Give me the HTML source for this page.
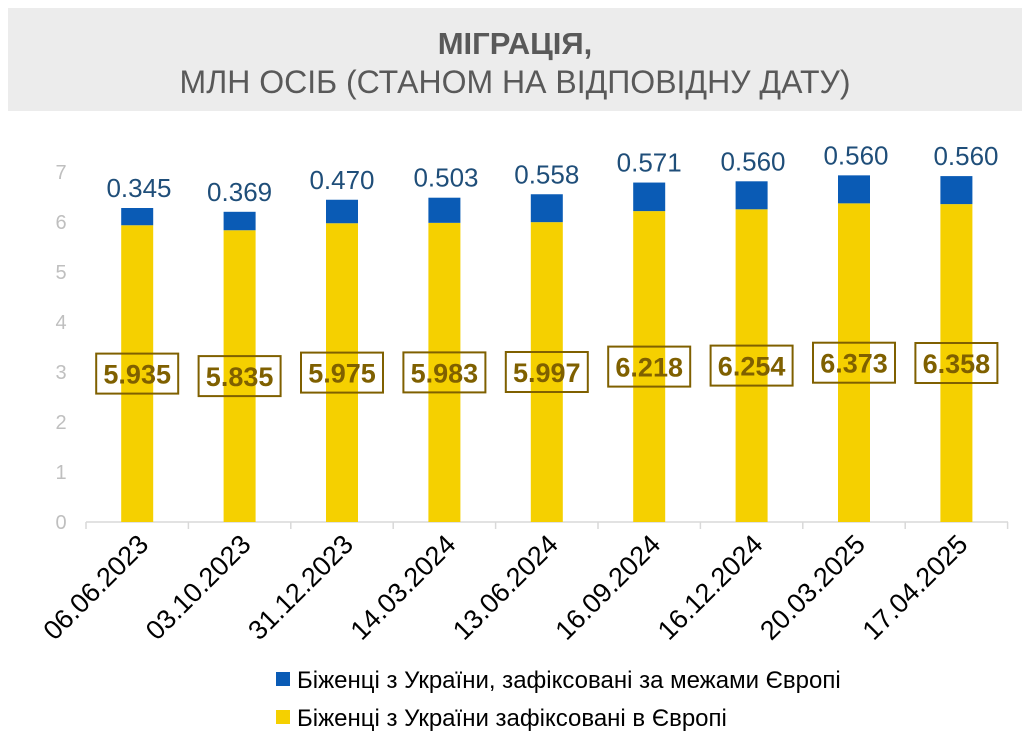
<!DOCTYPE html>
<html><head><meta charset="utf-8"><style>
body{margin:0;background:#fff;font-family:"Liberation Sans",sans-serif;}
</style></head><body>
<svg width="1030" height="740" xmlns="http://www.w3.org/2000/svg" font-family="Liberation Sans, sans-serif">
<rect x="8" y="8" width="1014" height="103" fill="#ececec"/>
<text x="515" y="54" text-anchor="middle" font-size="31" font-weight="bold" fill="#595959">МІГРАЦІЯ,</text>
<text x="515" y="93" text-anchor="middle" font-size="32" fill="#595959">МЛН ОСІБ (СТАНОМ НА ВІДПОВІДНУ ДАТУ)</text>
<g font-size="20" fill="#bfbfbf" text-anchor="middle">
<text x="61" y="529">0</text><text x="61" y="479">1</text><text x="61" y="429">2</text><text x="61" y="379">3</text><text x="61" y="329">4</text><text x="61" y="279">5</text><text x="61" y="229">6</text><text x="61" y="179">7</text>
</g>
<line x1="86" y1="522" x2="1008" y2="522" stroke="#d9d9d9" stroke-width="1.5"/>
<g stroke="#d9d9d9" stroke-width="1.5">
<line x1="86" y1="522" x2="86" y2="529"/><line x1="188.4" y1="522" x2="188.4" y2="529"/><line x1="290.8" y1="522" x2="290.8" y2="529"/><line x1="393.2" y1="522" x2="393.2" y2="529"/><line x1="495.6" y1="522" x2="495.6" y2="529"/><line x1="598" y1="522" x2="598" y2="529"/><line x1="700.4" y1="522" x2="700.4" y2="529"/><line x1="802.8" y1="522" x2="802.8" y2="529"/><line x1="905.2" y1="522" x2="905.2" y2="529"/><line x1="1007.6" y1="522" x2="1007.6" y2="529"/>
</g>
<g fill="#f5d000">
<rect x="121.2" y="225.25" width="32" height="296.75"/>
<rect x="223.6" y="230.25" width="32" height="291.75"/>
<rect x="326" y="223.25" width="32" height="298.75"/>
<rect x="428.4" y="222.85" width="32" height="299.15"/>
<rect x="530.8" y="222.15" width="32" height="299.85"/>
<rect x="633.2" y="211.1" width="32" height="310.9"/>
<rect x="735.6" y="209.3" width="32" height="312.7"/>
<rect x="838" y="203.35" width="32" height="318.65"/>
<rect x="940.4" y="204.1" width="32" height="317.9"/>
</g>
<g fill="#0a5bb5">
<rect x="121.2" y="208" width="32" height="17.25"/>
<rect x="223.6" y="211.8" width="32" height="18.45"/>
<rect x="326" y="199.75" width="32" height="23.5"/>
<rect x="428.4" y="197.7" width="32" height="25.15"/>
<rect x="530.8" y="194.25" width="32" height="27.9"/>
<rect x="633.2" y="182.55" width="32" height="28.55"/>
<rect x="735.6" y="181.3" width="32" height="28"/>
<rect x="838" y="175.35" width="32" height="28"/>
<rect x="940.4" y="176.1" width="32" height="28"/>
</g>
<g font-size="26" fill="#1f4e79" text-anchor="middle">
<text x="139" y="197">0.345</text>
<text x="239.6" y="200.8">0.369</text>
<text x="342" y="188.75">0.470</text>
<text x="446" y="186.7">0.503</text>
<text x="546.8" y="183.25">0.558</text>
<text x="649.2" y="171.55">0.571</text>
<text x="753" y="170.3">0.560</text>
<text x="856" y="164.35">0.560</text>
<text x="966" y="165.1">0.560</text>
</g>
<g fill="none" stroke="#7f6000" stroke-width="2">
<rect x="96.2" y="353.6" width="82" height="40"/>
<rect x="198.6" y="356.1" width="82" height="40"/>
<rect x="301" y="352.6" width="82" height="40"/>
<rect x="403.4" y="352.4" width="82" height="40"/>
<rect x="505.8" y="352" width="82" height="40"/>
<rect x="608.2" y="346.6" width="82" height="40"/>
<rect x="710.6" y="345.6" width="82" height="40"/>
<rect x="813" y="342.7" width="82" height="40"/>
<rect x="915.4" y="343" width="82" height="40"/>
</g>
<g font-size="27" font-weight="bold" fill="#7f6000" text-anchor="middle">
<text x="137.2" y="383.6">5.935</text>
<text x="239.6" y="386.1">5.835</text>
<text x="342" y="382.6">5.975</text>
<text x="444.4" y="382.4">5.983</text>
<text x="546.8" y="382">5.997</text>
<text x="649.2" y="376.6">6.218</text>
<text x="751.6" y="375.6">6.254</text>
<text x="854" y="372.7">6.373</text>
<text x="956.4" y="373">6.358</text>
</g>
<g font-size="27" fill="#000" text-anchor="end">
<text transform="translate(150,546) rotate(-45)">06.06.2023</text>
<text transform="translate(252.4,546) rotate(-45)">03.10.2023</text>
<text transform="translate(354.8,546) rotate(-45)">31.12.2023</text>
<text transform="translate(457.2,546) rotate(-45)">14.03.2024</text>
<text transform="translate(559.6,546) rotate(-45)">13.06.2024</text>
<text transform="translate(662,546) rotate(-45)">16.09.2024</text>
<text transform="translate(764.4,546) rotate(-45)">16.12.2024</text>
<text transform="translate(866.8,546) rotate(-45)">20.03.2025</text>
<text transform="translate(969.2,546) rotate(-45)">17.04.2025</text>
</g>
<rect x="276" y="672" width="14" height="14" fill="#0a5bb5"/>
<text x="297" y="688" font-size="24" fill="#000">Біженці з України, зафіксовані за межами Європі</text>
<rect x="276" y="710" width="14" height="14" fill="#f5d000"/>
<text x="297" y="726" font-size="24" fill="#000">Біженці з України зафіксовані в Європі</text>
</svg>
</body></html>
